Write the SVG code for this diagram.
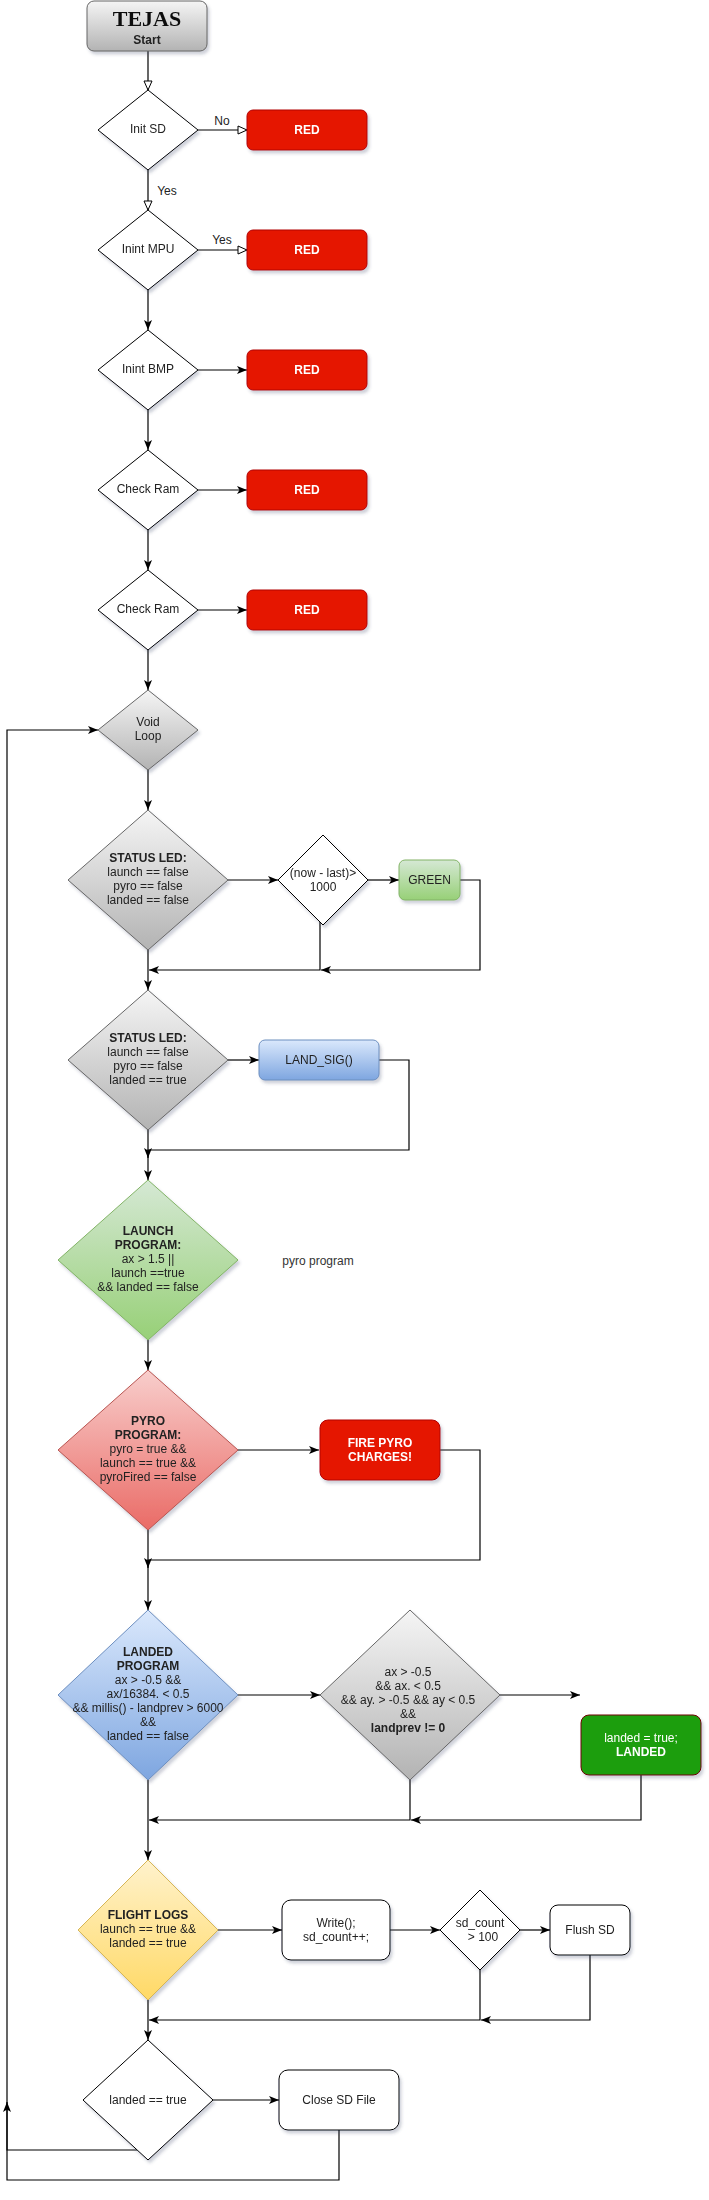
<svg xmlns="http://www.w3.org/2000/svg" width="709" height="2200" viewBox="0 0 709 2200">
<style>
text{font-family:"Liberation Sans",Arial,sans-serif;font-size:12px;fill:#222;text-anchor:middle}
.b{font-weight:bold}
.w{fill:#fff}
.red{fill:#e51400;stroke:#b20000;stroke-width:1}
.plain{fill:#fff;stroke:#000;stroke-width:1}
.gray{fill:url(#gGray);stroke:#666;stroke-width:1}
.edge{fill:none;stroke:#000;stroke-width:1.2}
.node{filter:url(#sh)}
</style>
<defs>
<linearGradient id="gGray" x1="0" y1="0" x2="0" y2="1"><stop offset="0" stop-color="#f5f5f5"/><stop offset="1" stop-color="#b3b3b3"/></linearGradient>
<linearGradient id="gGreen" x1="0" y1="0" x2="0" y2="1"><stop offset="0" stop-color="#d5e8d4"/><stop offset="1" stop-color="#97d077"/></linearGradient>
<linearGradient id="gBlue" x1="0" y1="0" x2="0" y2="1"><stop offset="0" stop-color="#dae8fc"/><stop offset="1" stop-color="#7ea6e0"/></linearGradient>
<linearGradient id="gRed" x1="0" y1="0" x2="0" y2="1"><stop offset="0" stop-color="#f8cecc"/><stop offset="1" stop-color="#ea6b66"/></linearGradient>
<linearGradient id="gYellow" x1="0" y1="0" x2="0" y2="1"><stop offset="0" stop-color="#fff2cc"/><stop offset="1" stop-color="#ffd966"/></linearGradient>
<filter id="sh" x="-20%" y="-20%" width="140%" height="140%"><feDropShadow dx="2" dy="3" stdDeviation="1.5" flood-color="#3b4a6b" flood-opacity="0.25"/></filter>
<marker id="arr" markerUnits="userSpaceOnUse" markerWidth="10" markerHeight="9" viewBox="0 0 10 8" refX="10" refY="4" orient="auto"><path d="M0,0 L10,4 L0,8 L2.5,4 Z" fill="#000"/></marker>
<marker id="open" markerUnits="userSpaceOnUse" markerWidth="11" markerHeight="10" viewBox="0 0 11 10" refX="10" refY="5" orient="auto"><path d="M1,1 L10,5 L1,9 Z" fill="#fff" stroke="#000" stroke-width="1"/></marker>
</defs>

<g id="connectors">
<path class="edge" d="M148,51 V90" marker-end="url(#open)"/>
<path class="edge" d="M198,130 H247" marker-end="url(#open)"/>
<text x="222" y="125">No</text>
<path class="edge" d="M148,170 V210" marker-end="url(#open)"/>
<text x="167" y="195">Yes</text>
<path class="edge" d="M198,250 H247" marker-end="url(#open)"/>
<text x="222" y="244">Yes</text>
<path class="edge" d="M148,290 V330" marker-end="url(#arr)"/>
<path class="edge" d="M198,370 H247" marker-end="url(#arr)"/>
<path class="edge" d="M148,410 V450" marker-end="url(#arr)"/>
<path class="edge" d="M198,490 H247" marker-end="url(#arr)"/>
<path class="edge" d="M148,530 V570" marker-end="url(#arr)"/>
<path class="edge" d="M198,610 H247" marker-end="url(#arr)"/>
<path class="edge" d="M148,650 V690" marker-end="url(#arr)"/>
<path class="edge" d="M148,770 V810" marker-end="url(#arr)"/>
<path class="edge" d="M228,880 H278" marker-end="url(#arr)"/>
<path class="edge" d="M368,880 H399" marker-end="url(#arr)"/>
<path class="edge" d="M460,880 H480 V970 H321" marker-end="url(#arr)"/>
<path class="edge" d="M320,922 V970 H149" marker-end="url(#arr)"/>
<path class="edge" d="M148,950 V990" marker-end="url(#arr)"/>
<path class="edge" d="M228,1060 H259" marker-end="url(#arr)"/>
<path class="edge" d="M379,1060 H409 V1150 H148 V1158" marker-end="url(#arr)"/>
<path class="edge" d="M148,1130 V1180" marker-end="url(#arr)"/>
<path class="edge" d="M148,1340 V1370" marker-end="url(#arr)"/>
<path class="edge" d="M238,1450 H319" marker-end="url(#arr)"/>
<path class="edge" d="M440,1450 H480 V1560 H148 V1568" marker-end="url(#arr)"/>
<path class="edge" d="M148,1530 V1610" marker-end="url(#arr)"/>
<path class="edge" d="M238,1695 H320" marker-end="url(#arr)"/>
<path class="edge" d="M500,1695 H580" marker-end="url(#arr)"/>
<path class="edge" d="M641,1775 V1820 H411" marker-end="url(#arr)"/>
<path class="edge" d="M410,1780 V1820 H149" marker-end="url(#arr)"/>
<path class="edge" d="M148,1780 V1860" marker-end="url(#arr)"/>
<path class="edge" d="M218,1930 H282" marker-end="url(#arr)"/>
<path class="edge" d="M390,1930 H440" marker-end="url(#arr)"/>
<path class="edge" d="M520,1930 H550" marker-end="url(#arr)"/>
<path class="edge" d="M590,1955 V2020 H481" marker-end="url(#arr)"/>
<path class="edge" d="M480,1970 V2020 H149" marker-end="url(#arr)"/>
<path class="edge" d="M148,2000 V2040" marker-end="url(#arr)"/>
<path class="edge" d="M213,2100 H279" marker-end="url(#arr)"/>
<path class="edge" d="M137,2150 H7 V2102" marker-end="url(#arr)"/>
<path class="edge" d="M339,2130 V2180 H7 V730 H98" marker-end="url(#arr)"/>
</g>

<g id="start" class="node"><rect x="87" y="1" width="120" height="50" rx="7" class="gray"/><text x="147" y="26" style="font-family:'Liberation Serif','Times New Roman',serif;font-size:22px;font-weight:bold;fill:#111">TEJAS</text><text x="147" y="44" class="b">Start</text></g>

<g id="initsd" class="node"><polygon points="148,90 198,130 148,170 98,130" class="plain"/><text x="148" y="133">Init SD</text></g>
<g id="red1" class="node"><rect x="247" y="110" width="120" height="40" rx="6" class="red"/><text x="307" y="134" class="b w">RED</text></g>

<g id="initmpu" class="node"><polygon points="148,210 198,250 148,290 98,250" class="plain"/><text x="148" y="253">Inint MPU</text></g>
<g id="red2" class="node"><rect x="247" y="230" width="120" height="40" rx="6" class="red"/><text x="307" y="254" class="b w">RED</text></g>

<g id="initbmp" class="node"><polygon points="148,330 198,370 148,410 98,370" class="plain"/><text x="148" y="373">Inint BMP</text></g>
<g id="red3" class="node"><rect x="247" y="350" width="120" height="40" rx="6" class="red"/><text x="307" y="374" class="b w">RED</text></g>

<g id="checkram1" class="node"><polygon points="148,450 198,490 148,530 98,490" class="plain"/><text x="148" y="493">Check Ram</text></g>
<g id="red4" class="node"><rect x="247" y="470" width="120" height="40" rx="6" class="red"/><text x="307" y="494" class="b w">RED</text></g>

<g id="checkram2" class="node"><polygon points="148,570 198,610 148,650 98,610" class="plain"/><text x="148" y="613">Check Ram</text></g>
<g id="red5" class="node"><rect x="247" y="590" width="120" height="40" rx="6" class="red"/><text x="307" y="614" class="b w">RED</text></g>

<g id="voidloop" class="node"><polygon points="148,690 198,730 148,770 98,730" class="gray"/><text x="148" y="726">Void</text><text x="148" y="740">Loop</text></g>

<g id="status1" class="node"><polygon points="148,810 228,880 148,950 68,880" class="gray"/><text x="148" y="862" class="b">STATUS LED:</text><text x="148" y="876">launch == false</text><text x="148" y="890">pyro == false</text><text x="148" y="904">landed == false</text></g>

<g id="nowlast" class="node"><polygon points="323,835 368,880 323,925 278,880" class="plain"/><text x="323" y="877">(now - last)&gt;</text><text x="323" y="891">1000</text></g>
<g id="green" class="node"><rect x="399" y="860" width="61" height="40" rx="6" fill="url(#gGreen)" stroke="#82b366"/><text x="429.5" y="884">GREEN</text></g>

<g id="status2" class="node"><polygon points="148,990 228,1060 148,1130 68,1060" class="gray"/><text x="148" y="1042" class="b">STATUS LED:</text><text x="148" y="1056">launch == false</text><text x="148" y="1070">pyro == false</text><text x="148" y="1084">landed == true</text></g>
<g id="landsig" class="node"><rect x="259" y="1040" width="120" height="40" rx="6" fill="url(#gBlue)" stroke="#6c8ebf"/><text x="319" y="1064">LAND_SIG()</text></g>

<g id="launch" class="node"><polygon points="148,1180 238,1260 148,1340 58,1260" fill="url(#gGreen)" stroke="#82b366"/><text x="148" y="1235" class="b">LAUNCH</text><text x="148" y="1249" class="b">PROGRAM:</text><text x="148" y="1263">ax &gt; 1.5 ||</text><text x="148" y="1277">launch ==true</text><text x="148" y="1291">&amp;&amp; landed == false</text></g>
<g id="pyrolabel"><text x="318" y="1265" style="fill:#333">pyro program</text></g>

<g id="pyro" class="node"><polygon points="148,1370 238,1450 148,1530 58,1450" fill="url(#gRed)" stroke="#b85450"/><text x="148" y="1425" class="b">PYRO</text><text x="148" y="1439" class="b">PROGRAM:</text><text x="148" y="1453">pyro = true &amp;&amp;</text><text x="148" y="1467">launch == true &amp;&amp;</text><text x="148" y="1481">pyroFired == false</text></g>
<g id="fire" class="node"><rect x="320" y="1420" width="120" height="60" rx="8" class="red"/><text x="380" y="1447" class="b w">FIRE PYRO</text><text x="380" y="1461" class="b w">CHARGES!</text></g>

<g id="landedprog" class="node"><polygon points="148,1610 238,1695 148,1780 58,1695" fill="url(#gBlue)" stroke="#6c8ebf"/><text x="148" y="1656" class="b">LANDED</text><text x="148" y="1670" class="b">PROGRAM</text><text x="148" y="1684">ax &gt; -0.5 &amp;&amp;</text><text x="148" y="1698">ax/16384. &lt; 0.5</text><text x="148" y="1712">&amp;&amp; millis() - landprev &gt; 6000</text><text x="148" y="1726">&amp;&amp;</text><text x="148" y="1740">landed == false</text></g>

<g id="axcheck" class="node"><polygon points="410,1610 500,1695 410,1780 320,1695" class="gray"/><text x="408" y="1676">ax &gt; -0.5</text><text x="408" y="1690">&amp;&amp; ax. &lt; 0.5</text><text x="408" y="1704">&amp;&amp; ay. &gt; -0.5 &amp;&amp; ay &lt; 0.5</text><text x="408" y="1718">&amp;&amp;</text><text x="408" y="1732" class="b">landprev != 0</text></g>
<g id="landedbox" class="node"><rect x="581" y="1715" width="120" height="60" rx="8" fill="#1e9e0e" stroke="#6f0000"/><text x="641" y="1742" class="w">landed = true;</text><text x="641" y="1756" class="b w">LANDED</text></g>

<g id="flightlogs" class="node"><polygon points="148,1860 218,1930 148,2000 78,1930" fill="url(#gYellow)" stroke="#d6b656"/><text x="148" y="1919" class="b">FLIGHT LOGS</text><text x="148" y="1933">launch == true &amp;&amp;</text><text x="148" y="1947">landed == true</text></g>
<g id="write" class="node"><rect x="282" y="1900" width="108" height="60" rx="9" class="plain"/><text x="336" y="1927">Write();</text><text x="336" y="1941">sd_count++;</text></g>
<g id="sdcount" class="node"><polygon points="480,1890 520,1930 480,1970 440,1930" class="plain"/><text x="480" y="1927">sd_count</text><text x="483" y="1941">&gt; 100</text></g>
<g id="flush" class="node"><rect x="550" y="1905" width="80" height="50" rx="8" class="plain"/><text x="590" y="1934">Flush SD</text></g>

<g id="landedtrue" class="node"><polygon points="148,2040 213,2100 148,2160 83,2100" class="plain"/><text x="148" y="2104">landed == true</text></g>
<g id="closesd" class="node"><rect x="279" y="2070" width="120" height="60" rx="9" class="plain"/><text x="339" y="2104">Close SD File</text></g>
</svg>
